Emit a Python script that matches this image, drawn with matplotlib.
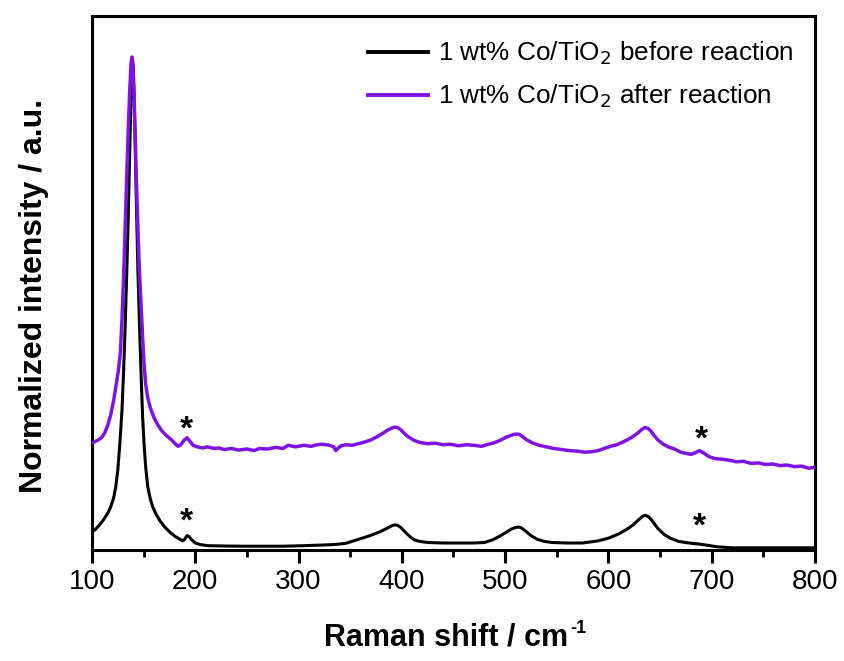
import matplotlib
matplotlib.use("Agg")
import matplotlib.pyplot as plt
from matplotlib.ticker import MultipleLocator

plt.rcParams['font.family'] = ['Liberation Sans', 'DejaVu Sans']

# Raman shift (cm-1) and normalized intensity
before_x = [100, 103, 106, 109, 112, 115, 118, 121, 123, 125, 127, 129, 130.5, 132,
            133.5, 134.8, 136, 137.2, 138.2, 139, 139.8, 140.8, 142, 143.2, 144.5,
            146, 147.5, 149, 150.5, 152, 154, 156.5, 159, 162, 166, 170, 175, 180,
            185, 188, 190, 192, 194, 196.5, 200, 205, 212, 225, 245, 265, 285, 305,
            320, 333, 345, 356.5, 368, 378.8, 385, 390, 393.3, 396, 399, 403, 407.8,
            412, 417, 425, 440, 455, 470, 480, 488, 495, 501, 506, 510, 513, 516,
            520, 525, 531, 538, 545, 560, 575, 590, 600, 610, 618, 624, 629, 633,
            636, 639, 643, 648, 654, 660, 668, 678, 688, 695, 705, 720, 740, 760,
            780, 800]
before_y = [0.034, 0.038, 0.044, 0.051, 0.059, 0.068, 0.080, 0.098, 0.118, 0.150,
            0.200, 0.260, 0.330, 0.412, 0.510, 0.600, 0.700, 0.800, 0.880, 0.915,
            0.905, 0.850, 0.740, 0.630, 0.520, 0.420, 0.330, 0.250, 0.195, 0.155,
            0.118, 0.095, 0.080, 0.067, 0.054, 0.044, 0.034, 0.026, 0.020, 0.017,
            0.021, 0.027, 0.025, 0.019, 0.013, 0.010, 0.008, 0.0075, 0.007, 0.007,
            0.007, 0.008, 0.009, 0.010, 0.012, 0.019, 0.026, 0.034, 0.040, 0.045,
            0.047, 0.046, 0.042, 0.034, 0.025, 0.019, 0.016, 0.014, 0.013, 0.013,
            0.013, 0.014, 0.019, 0.026, 0.033, 0.039, 0.042, 0.043, 0.041, 0.035,
            0.027, 0.020, 0.016, 0.014, 0.013, 0.013, 0.017, 0.022, 0.030, 0.039,
            0.047, 0.056, 0.063, 0.065, 0.062, 0.053, 0.040, 0.029, 0.022, 0.016,
            0.013, 0.011, 0.009, 0.006, 0.004, 0.004, 0.004, 0.004, 0.004]

after_x = [100, 103, 106, 109, 112, 115, 118, 121, 123.5, 125.5, 127.5, 129, 130.5,
           132, 133.5, 135, 136.5, 137.8, 138.7, 139.6, 140.6, 141.8, 143, 144.5,
           146, 147.5, 149, 150.5, 152, 154, 156.5, 160, 164, 168, 172.6, 176, 180,
           183.3, 186, 189, 192, 195, 198, 202, 207, 212, 218, 223, 228, 235, 242,
           250, 257, 262, 270, 278, 285, 290, 297, 305, 312, 318, 323, 330, 334, 336,
           338, 341, 346, 352, 358, 364, 370, 376, 382, 386, 390, 393, 396, 399, 402,
           406, 412, 418, 425, 432, 440, 447, 455, 462, 470, 477, 484, 490, 496, 501,
           505, 508, 511, 514, 517, 521, 527, 533, 540, 547, 555, 562, 570, 577, 584,
           590, 596, 602, 608, 614, 620, 625, 629, 632, 635, 638, 641, 644, 648, 653,
           658, 664, 670, 675, 680, 684, 688, 692, 697, 703, 710, 717, 724, 731, 738,
           745, 752, 759, 766, 773, 780, 787, 794, 800]
after_y = [0.200, 0.203, 0.206, 0.210, 0.218, 0.232, 0.252, 0.280, 0.310, 0.335,
           0.370, 0.430, 0.505, 0.600, 0.690, 0.780, 0.860, 0.910, 0.923, 0.912,
           0.860, 0.780, 0.690, 0.599, 0.520, 0.460, 0.400, 0.345, 0.310, 0.285,
           0.266, 0.248, 0.233, 0.222, 0.213, 0.208, 0.200, 0.194, 0.197, 0.205,
           0.210, 0.203, 0.196, 0.193, 0.191, 0.193, 0.190, 0.191, 0.188, 0.190,
           0.187, 0.189, 0.186, 0.190, 0.189, 0.192, 0.190, 0.196, 0.193, 0.196,
           0.194, 0.197, 0.198, 0.196, 0.193, 0.186, 0.190, 0.195, 0.197, 0.196,
           0.199, 0.202, 0.206, 0.212, 0.219, 0.224, 0.228, 0.230, 0.229, 0.225,
           0.219, 0.212, 0.205, 0.201, 0.199, 0.200, 0.197, 0.198, 0.195, 0.197,
           0.196, 0.194, 0.198, 0.201, 0.206, 0.211, 0.214, 0.216, 0.217, 0.216,
           0.212, 0.206, 0.200, 0.196, 0.193, 0.190, 0.188, 0.186, 0.185, 0.183,
           0.184, 0.186, 0.190, 0.194, 0.197, 0.202, 0.208, 0.214, 0.220, 0.225,
           0.229, 0.228, 0.223, 0.215, 0.206, 0.198, 0.193, 0.189, 0.183, 0.181,
           0.179, 0.182, 0.186, 0.182, 0.175, 0.171, 0.170, 0.168, 0.165, 0.166,
           0.162, 0.163, 0.160, 0.161, 0.158, 0.159, 0.156, 0.157, 0.153, 0.155]

series_labels = ['1 wt% Co/TiO$_2$ before reaction', '1 wt% Co/TiO$_2$ after reaction']

# asterisk markers (x, y)
star_x = [191, 191, 690.5, 688.6]
star_y = [0.225, 0.052, 0.205, 0.043]

fig = plt.figure(figsize=(8.44, 6.61), dpi=100)
ax = fig.add_axes([0.109, 0.168, 0.8566, 0.808])

ax.plot(before_x, before_y, color='black', lw=2.2, label=series_labels[0], zorder=2)
ax.plot(after_x, after_y, color='#8012e6', lw=2.5, label=series_labels[1], zorder=3)

for sx, sy in zip(star_x, star_y):
    ax.text(sx, sy, '*', fontsize=24, fontweight='bold', ha='center', va='center')

ax.set_xlim(100, 800)
ax.set_ylim(0, 1)
ax.xaxis.set_major_locator(MultipleLocator(100))
ax.xaxis.set_minor_locator(MultipleLocator(50))
ax.tick_params(axis='x', which='major', direction='out', length=9, width=2.2,
               labelsize=20, pad=5, top=False)
ax.tick_params(axis='x', which='minor', direction='out', length=5, width=2.0, top=False)
ax.set_yticks([])
for s in ax.spines.values():
    s.set_linewidth(2.2)

ax.set_xlabel('Raman shift / cm', fontsize=22, fontweight='bold')
ax.xaxis.set_label_coords(0.49, -0.135)
ax.set_ylabel('Normalized intensity / a.u.', fontsize=23, fontweight='bold')
ax.yaxis.set_label_coords(-0.060, 0.475)

leg = ax.legend(loc='upper right', bbox_to_anchor=(0.985, 0.975), frameon=False,
                fontsize=18.8, handlelength=2.3, handletextpad=0.4, labelspacing=0.6,
                borderaxespad=0)
for line in leg.get_lines():
    line.set_linewidth(2.8)

fig.canvas.draw()
bb = ax.xaxis.label.get_window_extent(fig.canvas.get_renderer())
fig.text((bb.x1 + 2) / fig.bbox.width, (bb.y1 - 6) / fig.bbox.height, '-1',
         fontsize=13, fontweight='bold', ha='left', va='center')

fig.savefig('out.png', dpi=100)
